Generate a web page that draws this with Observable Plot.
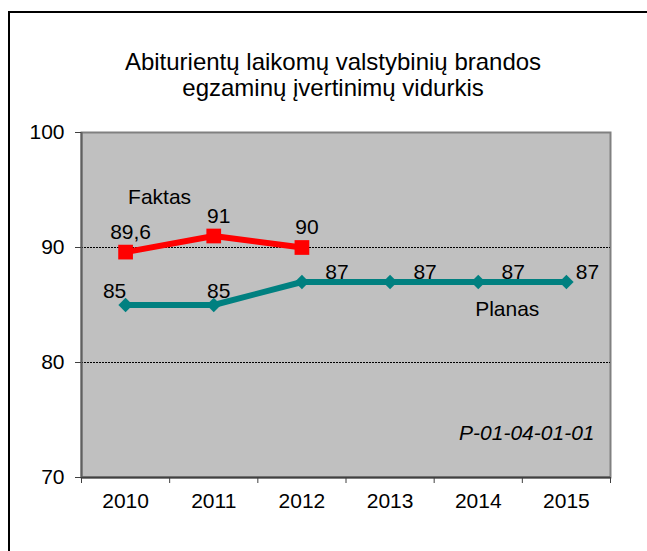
<!DOCTYPE html>
<html>
<head>
<meta charset="utf-8">
<script src="https://cdn.jsdelivr.net/npm/d3@7"></script>
<script src="https://cdn.jsdelivr.net/npm/@observablehq/plot@0.6"></script>
<style>
  html, body { margin: 0; padding: 0; background: #fff; }
  #chart { width: 647px; height: 551px; }
</style>
</head>
<body>
<div id="chart"></div>
<script>
const title = "Abiturientų laikomų valstybinių brandos\negzaminų įvertinimų vidurkis";
const years = [2010, 2011, 2012, 2013, 2014, 2015];
const faktasYears = [2010, 2011, 2012];
const faktasValues = [89.6, 91, 90];
const faktasLabels = ["89,6", "91", "90"];
const planasValues = [85, 85, 87, 87, 87, 87];
const planasLabels = ["85", "85", "87", "87", "87", "87"];
const yTicks = [70, 80, 90, 100];
const gridValues = [80, 90];
const code = "P-01-04-01-01";

const faktas = faktasYears.map((year, i) => ({year, value: faktasValues[i], label: faktasLabels[i]}));
const planas = years.map((year, i) => ({year, value: planasValues[i], label: planasLabels[i], i}));
const boundaries = [...years.map(y => y - 0.5), years[years.length - 1] + 0.5];

const W = 647, H = 551;
const font = "Liberation Sans, Arial, sans-serif";
const fs = 21;

const plot = Plot.plot({
  width: W,
  height: H,
  marginLeft: 81,
  marginRight: 37,
  marginTop: 132,
  marginBottom: 74,
  style: {fontFamily: font, fontSize: fs + "px", background: "#fff", color: "#000"},
  x: {type: "linear", domain: [years[0] - 0.5, years[years.length - 1] + 0.5], axis: null},
  y: {type: "linear", domain: [70, 100], axis: null},
  marks: [
    Plot.frame({fill: "#C0C0C0", stroke: "#808080", strokeWidth: 2}),
    Plot.ruleY(gridValues, {stroke: "#000", strokeWidth: 1, strokeDasharray: "2,1"}),
    Plot.ruleY([70], {stroke: "#404040", strokeWidth: 2}),
    Plot.ruleX([years[0] - 0.5], {stroke: "#606060", strokeWidth: 2}),
    // y axis
    Plot.axisY({ticks: yTicks, tickSize: 6, tickPadding: 11, fontSize: fs, stroke: "#404040", label: null, tickFormat: d => String(d)}),
    // x axis
    Plot.axisX({ticks: boundaries, tickSize: 6, tickFormat: () => "", stroke: "#404040", label: null}),
    Plot.axisX({ticks: years, tickSize: 0, tickPadding: 16, fontSize: fs, label: null, tickFormat: d => String(d)}),
    // Planas
    Plot.line(planas, {x: "year", y: "value", stroke: "#008080", strokeWidth: 6}),
    Plot.dot(planas, {x: "year", y: "value", symbol: "diamond2", r: 6.5, fill: "#008080", stroke: "none"}),
    // Faktas
    Plot.line(faktas, {x: "year", y: "value", stroke: "#FF0000", strokeWidth: 6}),
    Plot.dot(faktas, {x: "year", y: "value", symbol: "square", r: 8.3, fill: "#FF0000", stroke: "none"}),
    // data labels
    Plot.text(faktas, {x: "year", y: "value", text: "label", dx: 5, dy: -20, fontSize: fs, fill: "#000"}),
    Plot.text(planas.filter(d => d.i === 0), {x: "year", y: "value", text: "label", dx: -11, dy: -14, fontSize: fs, fill: "#000"}),
    Plot.text(planas.filter(d => d.i === 1), {x: "year", y: "value", text: "label", dx: 5, dy: -14, fontSize: fs, fill: "#000"}),
    Plot.text(planas.filter(d => d.i >= 2 && d.i <= 4), {x: "year", y: "value", text: "label", dx: 35, dy: -10, fontSize: fs, fill: "#000"}),
    Plot.text(planas.filter(d => d.i === 5), {x: "year", y: "value", text: "label", dx: 21, dy: -10, fontSize: fs, fill: "#000"}),
    // series names
    Plot.text(faktas.slice(0, 1), {x: "year", y: "value", text: () => "Faktas", dx: 34, dy: -55, fontSize: fs, fill: "#000"}),
    Plot.text(planas.filter(d => d.i === 4), {x: "year", y: "value", text: () => "Planas", dx: 29, dy: 27, fontSize: fs, fill: "#000"}),
    // code
    Plot.text([code], {frameAnchor: "bottom-right", text: d => d, textAnchor: "end", dx: -16, dy: -38, fontSize: fs, fontStyle: "italic", fill: "#000"}),
    // title
    Plot.text([title], {frameAnchor: "top", text: d => d, dx: -13, dy: -58, lineAnchor: "middle", lineHeight: 1.1, fontSize: 24, fill: "#000"})
  ]
});

const svg = d3.select(plot);
svg.append("line").attr("x1", 8).attr("y1", 12).attr("x2", W).attr("y2", 12).attr("stroke", "#000").attr("stroke-width", 2);
svg.append("line").attr("x1", 9).attr("y1", 11).attr("x2", 9).attr("y2", H).attr("stroke", "#000").attr("stroke-width", 2);

document.getElementById("chart").appendChild(plot);
</script>
</body>
</html>
